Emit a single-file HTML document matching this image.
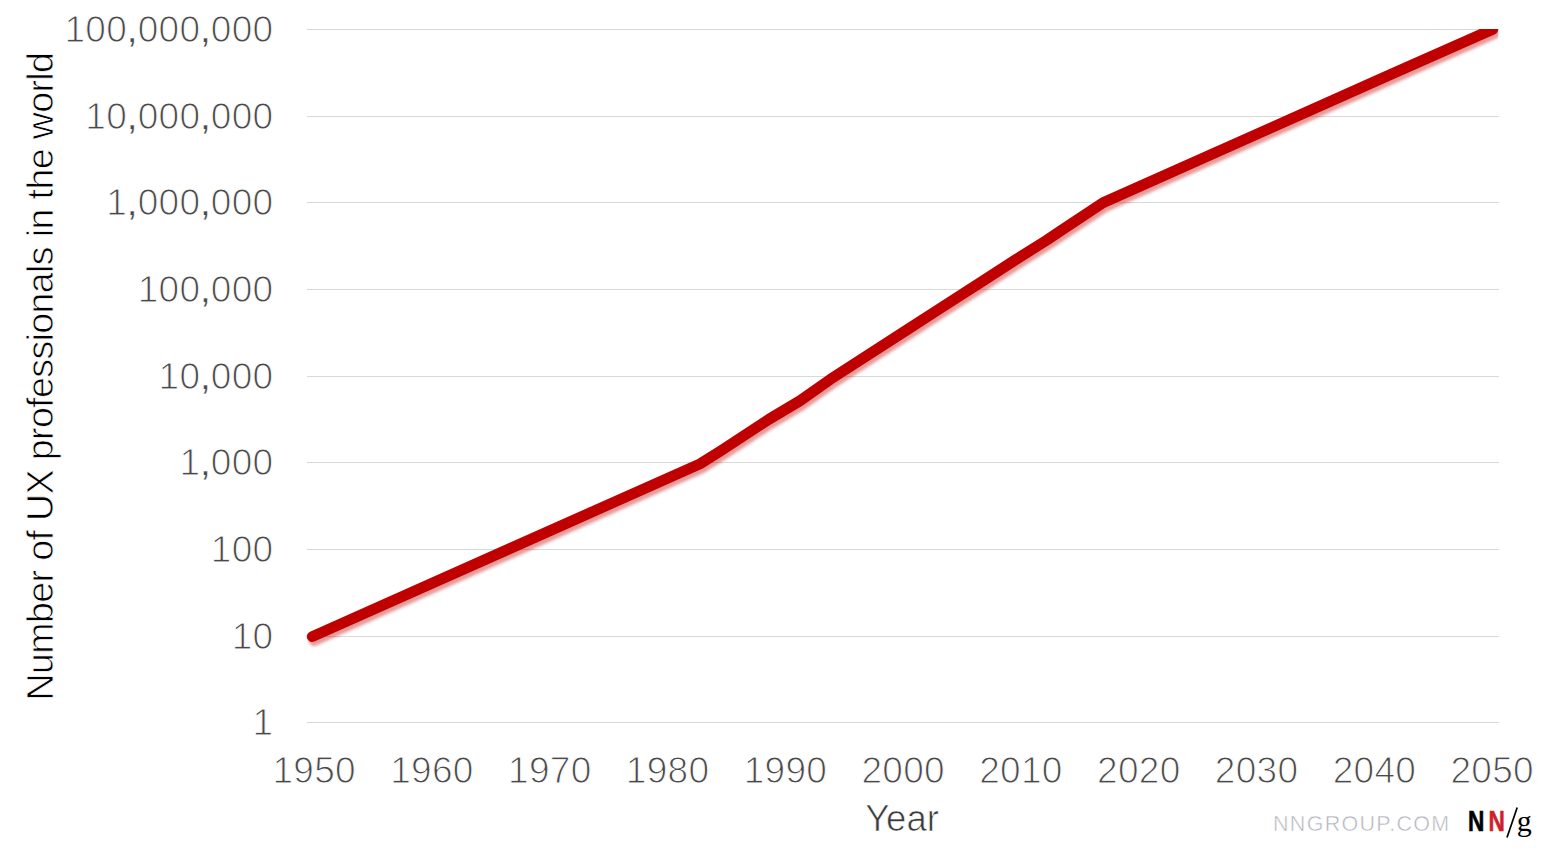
<!DOCTYPE html>
<html><head><meta charset="utf-8"><title>Number of UX professionals in the world</title>
<style>
html,body{margin:0;padding:0;background:#fff;}
body{width:1547px;height:856px;overflow:hidden;}
svg{display:block;}
.s{font-family:'Liberation Sans', Arial, Helvetica, sans-serif;}
.lt{stroke:#fff;stroke-width:1.0px;paint-order:fill stroke;}
.sf{font-family:'Liberation Serif', 'Times New Roman', serif;}
.c{stroke-width:0.2px;}
</style></head><body>
<svg width="1547" height="856" viewBox="0 0 1547 856">
<defs>
<clipPath id="plot"><rect x="300" y="29" width="1198.3" height="720"/></clipPath>
<filter id="sh" x="-5%" y="-5%" width="110%" height="110%" color-interpolation-filters="sRGB">
<feDropShadow dx="2" dy="4" stdDeviation="1.5" flood-color="#c00000" flood-opacity="0.40"/>
</filter>
</defs>
<rect width="1547" height="856" fill="#fff"/>
<g fill="#d9d9d9">
<rect x="307" y="29" width="1192" height="1"/>
<rect x="307" y="116" width="1192" height="1"/>
<rect x="307" y="202" width="1192" height="1"/>
<rect x="307" y="289" width="1192" height="1"/>
<rect x="307" y="376" width="1192" height="1"/>
<rect x="307" y="462" width="1192" height="1"/>
<rect x="307" y="549" width="1192" height="1"/>
<rect x="307" y="636" width="1192" height="1"/>
<rect x="307" y="722" width="1192" height="1"/>
</g>
<g class="s lt" font-size="37" fill="#4a4a4a" text-anchor="end" letter-spacing="0.3">
<text x="273.5" y="41.8">100<tspan class="c">,</tspan>000<tspan class="c">,</tspan>000</text>
<text x="273.5" y="128.8">10<tspan class="c">,</tspan>000<tspan class="c">,</tspan>000</text>
<text x="273.5" y="214.8">1<tspan class="c">,</tspan>000<tspan class="c">,</tspan>000</text>
<text x="273.5" y="301.8">100<tspan class="c">,</tspan>000</text>
<text x="273.5" y="388.8">10<tspan class="c">,</tspan>000</text>
<text x="273.5" y="474.8">1<tspan class="c">,</tspan>000</text>
<text x="273.5" y="561.8">100</text>
<text x="273.5" y="648.8">10</text>
<text x="273.5" y="734.8">1</text>
</g>
<g class="s lt" font-size="37" fill="#4a4a4a" text-anchor="middle" letter-spacing="0.3">
<text x="314.2" y="783">1950</text>
<text x="432.0" y="783">1960</text>
<text x="549.8" y="783">1970</text>
<text x="667.6" y="783">1980</text>
<text x="785.4" y="783">1990</text>
<text x="903.2" y="783">2000</text>
<text x="1021.0" y="783">2010</text>
<text x="1138.8" y="783">2020</text>
<text x="1256.6" y="783">2030</text>
<text x="1374.4" y="783">2040</text>
<text x="1492.2" y="783">2050</text>
</g>
<text class="s lt" x="902" y="831" font-size="36.5" fill="#3a3a3a" text-anchor="middle" style="stroke-width:0.7px">Year</text>
<text class="s lt" transform="translate(53 376.5) rotate(-90)" font-size="37.5" letter-spacing="-0.6" fill="#000" text-anchor="middle" style="stroke-width:0.8px">Number of UX professionals in the world</text>
<g clip-path="url(#plot)"><path d="M312.2 636.65 L700.0 463.85 L720.9 450.75 L769.0 419.25 L800.0 400.75 L830.0 379.55 L905.0 331.15 L940.0 308.45 L983.0 280.85 L1015.0 260.15 L1047.0 240.05 L1060.0 231.25 L1103.0 202.75 L1390.0 74.70 L1492.8 29.25" fill="none" stroke="#c00000" stroke-width="10.8" stroke-linecap="round" stroke-linejoin="round" filter="url(#sh)"/></g>
<text class="s lt" x="1273" y="831" font-size="21.5" fill="#b3b3bc" letter-spacing="1.3" style="stroke-width:0.5px">NNGROUP.COM</text>
<g class="s" font-weight="bold" font-size="30.2"><text transform="translate(1468 831.2) scale(0.75 1)" fill="#000" stroke="#000" stroke-width="0.6">N</text><text transform="translate(1488.4 831.2) scale(0.75 1)" fill="#cf1f2c" stroke="#cf1f2c" stroke-width="0.6">N</text></g>
<line x1="1507" y1="837.5" x2="1517.2" y2="807.4" stroke="#000" stroke-width="1.7"/>
<text class="sf" x="1516.8" y="831" font-size="30" fill="#000">g</text>
</svg></body></html>
